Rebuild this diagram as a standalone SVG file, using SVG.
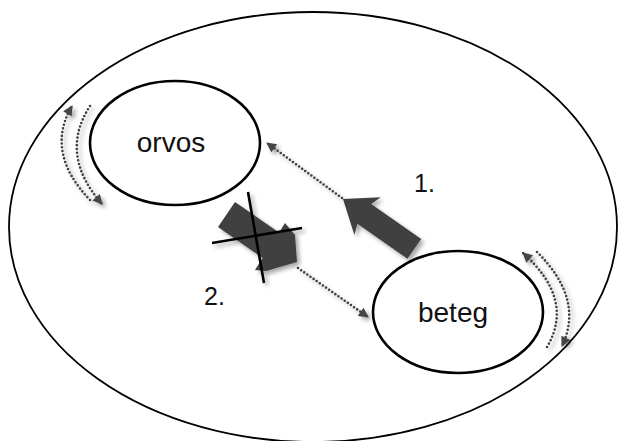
<svg xmlns="http://www.w3.org/2000/svg" width="618" height="441" viewBox="0 0 618 441">
  <style>
    .ell { fill: #fff; stroke: #000; stroke-width: 2.6; }
    .outer { fill: #fff; stroke: #000; stroke-width: 1.8; }
    .lbl { font-family: "Liberation Sans", Arial, sans-serif; fill: #111; }
    .dot { fill: none; stroke: #404040; stroke-width: 2.6; stroke-linecap: round; stroke-dasharray: 0 3.8; }
    .big { fill: #404040; }
    .cross { stroke: #000; stroke-width: 2.6; stroke-linecap: butt; }
  </style>
  <defs>
    <marker id="ah" viewBox="0 0 10 10" refX="9" refY="5" markerUnits="userSpaceOnUse" markerWidth="12" markerHeight="10" orient="auto">
      <path d="M0,0 L10,5 L0,10 z" fill="#444"/>
    </marker>
    <filter id="sh" x="-30%" y="-30%" width="160%" height="160%">
      <feGaussianBlur in="SourceAlpha" stdDeviation="2.2"/>
      <feOffset dx="3" dy="3" result="b"/>
      <feComponentTransfer><feFuncA type="linear" slope="0.35"/></feComponentTransfer>
      <feMerge><feMergeNode/><feMergeNode in="SourceGraphic"/></feMerge>
    </filter>
  </defs>

  <g id="outer">
    <ellipse class="outer" cx="313" cy="227" rx="304" ry="215"/>
  </g>

  <g id="orvos">
    <ellipse class="ell" cx="175" cy="143" rx="85" ry="62"/>
    <text class="lbl" x="171" y="152" font-size="28" text-anchor="middle">orvos</text>
  </g>

  <g id="beteg">
    <ellipse class="ell" cx="458" cy="312" rx="85" ry="61"/>
    <text class="lbl" x="453" y="322" font-size="28" text-anchor="middle">beteg</text>
  </g>

  <g id="label1">
    <text class="lbl" x="414" y="192" font-size="25">1.</text>
  </g>
  <g id="label2">
    <text class="lbl" x="204" y="305" font-size="25">2.</text>
  </g>

  <g id="connectors" filter="url(#sh)">
    <path class="dot" d="M342,198 L267,143" marker-end="url(#ah)"/>
    <path class="dot" d="M298,268 L368,317" marker-end="url(#ah)"/>
    <path class="dot" d="M90,200 Q44.5,152.5 72,106" marker-end="url(#ah)"/>
    <path class="dot" d="M90,106 Q58.5,154.5 102,204" marker-end="url(#ah)"/>
    <path class="dot" d="M547,347 Q575,299.5 523,253" marker-end="url(#ah)"/>
    <path class="dot" d="M537,252 Q584.5,299 562,346" marker-end="url(#ah)"/>
  </g>

  <g id="arrow1" filter="url(#sh)">
    <path class="big" transform="translate(343,199) rotate(35)" d="M0,0 L30,-23 L26,-12 L87,-12 L87,12 L26,12 L30,23 z"/>
  </g>

  <g id="arrow2" filter="url(#sh)">
    <path class="big" d="M235,202 L279,232.5 L285,223 L295,235 L297,262 L266,271 L255,270 L262.6,258 L218,227 z"/>
    <line class="cross" x1="248" y1="192" x2="264" y2="283"/>
    <line class="cross" x1="212" y1="243" x2="302" y2="228"/>
  </g>
</svg>
